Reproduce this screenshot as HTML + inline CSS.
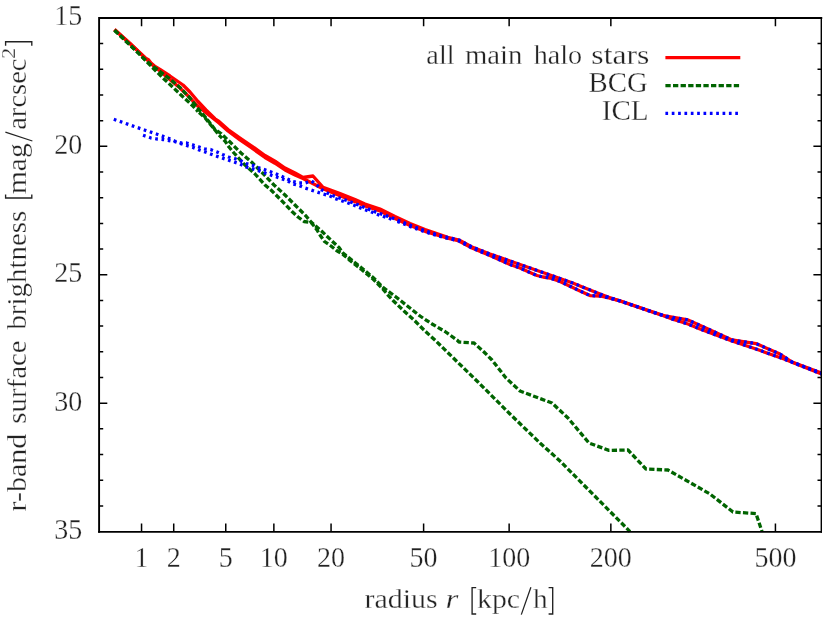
<!DOCTYPE html>
<html><head><meta charset="utf-8"><title>r-band surface brightness</title>
<style>html,body{margin:0;padding:0;background:#fff;overflow:hidden;}svg{display:block;will-change:transform;}text{font-family:"Liberation Serif",serif;font-size:28px;fill:#222;stroke:#fff;stroke-width:0.3px;paint-order:fill stroke;}</style></head><body>
<svg width="830" height="618" viewBox="0 0 830 618">
<rect width="830" height="618" fill="#fff"/>
<g fill="none" stroke-width="3.3" stroke-linejoin="round" stroke-linecap="butt">
<polyline stroke="#ff0000" points="114.5,29.5 130.0,43.5 145.0,57.9 148.5,59.7 151.0,62.9 155.0,66.5 160.0,69.5 170.0,76.0 183.0,85.0 190.0,92.0 198.0,101.5 206.0,110.0 215.0,118.8 219.0,121.4 228.0,129.5 240.0,138.0 251.0,145.5 265.0,155.5 275.0,161.2 285.0,168.0 295.0,173.0 303.0,177.5 313.0,176.0 323.0,187.3 340.0,193.6 355.0,199.5 365.0,204.0 380.0,209.0 395.0,216.5 410.0,223.5 425.0,229.6 447.7,237.3 459.0,240.0 472.0,247.0 490.0,254.0 510.0,261.0 530.0,268.0 540.0,271.5 550.0,275.0 560.0,278.5 572.7,283.0 580.0,286.0 600.0,294.0 610.0,297.8 620.0,300.8 650.0,311.0 665.0,316.0 672.0,317.2 688.0,320.0 708.0,329.0 732.0,340.0 756.0,343.6 780.0,354.0 792.0,362.0 821.5,373.0"/>
<polyline stroke="#ff0000" points="114.5,29.5 130.0,43.5 145.0,57.5 150.0,63.0 160.0,71.0 168.0,78.0 180.0,88.0 190.0,97.8 198.0,106.3 206.0,112.8 219.0,123.0 228.0,131.0 240.0,140.0 251.0,147.5 265.0,157.5 275.0,163.2 285.0,170.0 295.0,175.0 303.0,178.5 323.0,188.8 340.0,195.6 355.0,201.6 365.0,206.0 380.0,211.0 395.0,218.5 410.0,225.4 425.0,231.3 447.7,238.2 459.0,241.0 472.0,248.0 490.0,255.5 500.0,260.0 510.0,264.5 520.0,268.0 530.0,272.5 537.0,275.5 543.0,277.0 550.0,278.0 560.0,281.5 572.7,287.5 580.0,291.0 590.0,295.6 600.0,296.0 610.0,298.2 620.0,301.0 650.0,311.2 665.0,316.3 672.0,319.0 688.0,324.0 700.0,329.0 732.0,341.0 756.0,349.0 784.0,359.0 821.5,374.0"/>
<polyline stroke="#006400" stroke-dasharray="5.3 2.3" points="114.5,30.2 137.7,52.4 144.8,59.5 150.0,64.0 170.0,79.0 180.0,87.5 190.0,98.0 197.0,107.5 205.0,116.8 209.0,121.8 215.0,129.5 221.0,133.5 230.0,142.0 241.0,153.0 252.0,162.5 263.0,173.5 274.0,185.0 285.0,195.0 295.0,205.0 306.0,216.0 311.0,222.0 322.0,231.5 333.0,242.0 339.0,247.5 343.0,253.1 349.0,257.9 361.0,267.4 373.0,277.4 383.0,287.4 390.0,292.5 396.0,297.0 408.0,306.5 420.0,316.0 432.0,324.0 445.0,331.5 457.0,340.0 459.0,342.0 474.0,343.0 484.0,352.0 492.0,360.0 506.0,378.0 520.0,391.0 552.0,403.0 568.0,418.0 589.0,443.0 609.0,450.4 628.0,450.0 646.0,469.0 668.0,470.0 710.0,494.0 733.0,512.0 756.0,513.6 762.0,531.6"/>
<polyline stroke="#006400" stroke-dasharray="5.3 2.3" points="114.5,30.2 137.7,52.4 144.8,59.5 152.0,67.0 164.0,79.0 170.0,84.5 181.0,95.0 187.0,100.5 193.0,106.1 198.0,111.6"/>
<polyline stroke="#006400" stroke-dasharray="5.3 2.3" stroke-dashoffset="6.17" points="198.0,111.6 205.0,117.8 209.0,122.8 215.0,130.0 219.0,135.1"/>
<polyline stroke="#006400" stroke-dasharray="5.3 2.3" stroke-dashoffset="1.03" points="219.0,135.1 225.0,141.0 229.0,147.0 234.0,153.0 244.0,164.0 255.0,174.0 265.0,185.0 271.0,190.0 281.0,200.0 292.0,211.5 298.0,217.0 304.0,221.5 311.0,222.5 314.0,226.0 317.0,230.0 320.0,235.0 324.5,241.5 331.0,246.0 336.5,250.5 343.0,254.4 349.0,259.6 361.0,269.1 373.0,279.1 383.0,289.1 388.0,295.1 393.0,300.5 404.0,311.0 415.0,321.0 425.5,331.5 436.0,341.0 440.0,345.0 478.0,382.0 510.0,414.0 540.0,443.0 560.0,461.0 630.0,531.6"/>
<polyline stroke="#0000ff" stroke-dasharray="2.7 3.65" points="113.8,119.3 145.0,130.2 157.0,134.2 169.0,138.5 174.5,141.0 180.5,142.8 186.5,143.0 192.5,144.8 198.5,146.8 204.5,148.8 210.5,149.5 216.5,151.8 222.5,154.5 228.5,157.0 234.5,158.5 240.0,160.5 246.0,163.5 252.0,165.0 258.0,167.5 270.0,171.5 281.0,176.0 293.0,181.5 299.0,183.0 305.0,183.0 311.5,181.0 316.0,184.0 320.5,189.0 325.0,192.0 335.0,196.5 347.5,200.8 359.0,205.2 365.0,207.7 376.0,212.2 388.0,216.4 395.0,219.0 407.0,224.0 419.0,228.6 431.0,232.7 443.0,236.4 459.0,240.0 472.0,247.0 490.0,254.0 510.0,261.0 530.0,268.0 540.0,271.5 550.0,275.0 560.0,278.5 572.7,283.0 580.0,286.0 600.0,294.0 610.0,297.8 620.0,300.8 650.0,311.0 665.0,316.0 672.0,317.2 688.0,320.0 708.0,329.0 732.0,340.0 756.0,343.6 780.0,354.0 792.0,362.0 821.5,373.0"/>
<polyline stroke="#0000ff" stroke-dasharray="2.7 3.65" points="143.0,135.3 144.5,135.8 150.5,137.8 156.8,139.0 163.0,139.5 169.0,140.5 174.5,141.5 186.5,145.5 192.5,147.2 198.5,149.7 204.5,151.8 210.5,154.0 216.0,156.0 222.0,158.0 228.0,160.0 234.0,162.0 240.0,164.0 246.0,167.0 252.0,168.5 263.5,172.5 275.0,176.5 287.0,180.5 293.0,184.0 299.0,185.5 305.0,188.0 311.0,190.0 317.0,192.0 323.0,194.0 329.0,195.5 335.0,198.5 341.5,200.7 347.5,202.8 353.5,205.0 359.0,207.3 365.0,209.7 371.0,211.7 376.0,214.0 388.0,218.0 395.0,220.5"/>
<polyline stroke="#0000ff" stroke-dasharray="2.7 3.65" stroke-dashoffset="3.71" points="395.0,220.5 407.0,225.3 419.0,229.8 431.0,233.7 443.0,237.2 459.0,241.0 472.0,248.0 490.0,255.5 500.0,260.0 510.0,264.5 520.0,268.0 530.0,272.5 537.0,275.5 543.0,277.0 550.0,278.0 560.0,281.5 572.7,287.5 580.0,291.0 590.0,295.6 600.0,296.0 610.0,298.2 620.0,301.0 650.0,311.2 665.0,316.3 672.0,319.0 688.0,324.0 700.0,329.0 732.0,341.0 756.0,349.0 784.0,359.0 821.5,374.0"/>
<line stroke="#ff0000" x1="665.4" y1="57.65" x2="740.3" y2="57.65"/>
<line stroke="#006400" stroke-dasharray="5.3 2.3" x1="665.4" y1="85.55" x2="739.3" y2="85.55"/>
<line stroke="#0000ff" stroke-dasharray="2.7 3.65" x1="665.4" y1="113.3" x2="738.4" y2="113.3"/>
</g>
<g stroke="#000" fill="none" stroke-linecap="butt">
<path stroke-width="1.9" stroke-linecap="square" d="M99.1 531.7V18.0H821.3000000000001"/>
<path stroke-width="1.8" d="M98.14999999999999 531.8000000000001H822.0"/>
<path stroke-width="1.4" d="M821.3000000000001 17.05V532.7"/>
<path stroke-width="1.5" d="M99.1 43.58h4.1M821.6 43.58h-4.1M99.1 69.27h4.1M821.6 69.27h-4.1M99.1 94.95h4.1M821.6 94.95h-4.1M99.1 120.64h4.1M821.6 120.64h-4.1M99.1 146.32h8.2M821.6 146.32h-8.2M99.1 172.01h4.1M821.6 172.01h-4.1M99.1 197.69h4.1M821.6 197.69h-4.1M99.1 223.38h4.1M821.6 223.38h-4.1M99.1 249.06h4.1M821.6 249.06h-4.1M99.1 274.75h8.2M821.6 274.75h-8.2M99.1 300.43h4.1M821.6 300.43h-4.1M99.1 326.12h4.1M821.6 326.12h-4.1M99.1 351.80h4.1M821.6 351.80h-4.1M99.1 377.49h4.1M821.6 377.49h-4.1M99.1 403.17h8.2M821.6 403.17h-8.2M99.1 428.86h4.1M821.6 428.86h-4.1M99.1 454.54h4.1M821.6 454.54h-4.1M99.1 480.23h4.1M821.6 480.23h-4.1M99.1 505.91h4.1M821.6 505.91h-4.1M141.55 531.7v-8.2M141.55 18.0v8.2M173.72 531.7v-8.2M173.72 18.0v8.2M225.76 531.7v-8.2M225.76 18.0v8.2M273.86 531.7v-8.2M273.86 18.0v8.2M331.06 531.7v-8.2M331.06 18.0v8.2M423.61 531.7v-8.2M423.61 18.0v8.2M509.14 531.7v-8.2M509.14 18.0v8.2M610.85 531.7v-8.2M610.85 18.0v8.2M775.43 531.7v-8.2M775.43 18.0v8.2"/>
</g>
<text x="54.30" y="25.30" style="font-size:29px" textLength="28.00" lengthAdjust="spacingAndGlyphs">15</text>
<text x="54.30" y="153.72" style="font-size:29px" textLength="28.00" lengthAdjust="spacingAndGlyphs">20</text>
<text x="54.30" y="282.15" style="font-size:29px" textLength="28.00" lengthAdjust="spacingAndGlyphs">25</text>
<text x="54.30" y="410.57" style="font-size:29px" textLength="28.00" lengthAdjust="spacingAndGlyphs">30</text>
<text x="54.30" y="539.00" style="font-size:29px" textLength="28.00" lengthAdjust="spacingAndGlyphs">35</text>
<text x="134.55" y="566.80" style="font-size:29px" textLength="14.00" lengthAdjust="spacingAndGlyphs">1</text>
<text x="166.72" y="566.80" style="font-size:29px" textLength="14.00" lengthAdjust="spacingAndGlyphs">2</text>
<text x="218.76" y="566.80" style="font-size:29px" textLength="14.00" lengthAdjust="spacingAndGlyphs">5</text>
<text x="259.86" y="566.80" style="font-size:29px" textLength="28.00" lengthAdjust="spacingAndGlyphs">10</text>
<text x="317.06" y="566.80" style="font-size:29px" textLength="28.00" lengthAdjust="spacingAndGlyphs">20</text>
<text x="409.61" y="566.80" style="font-size:29px" textLength="28.00" lengthAdjust="spacingAndGlyphs">50</text>
<text x="488.14" y="566.80" style="font-size:29px" textLength="42.00" lengthAdjust="spacingAndGlyphs">100</text>
<text x="589.85" y="566.80" style="font-size:29px" textLength="42.00" lengthAdjust="spacingAndGlyphs">200</text>
<text x="754.43" y="566.80" style="font-size:29px" textLength="42.00" lengthAdjust="spacingAndGlyphs">500</text>
<text x="426.39" y="64.40" style="font-size:28px" textLength="28.20" lengthAdjust="spacingAndGlyphs">all</text>
<text x="464.98" y="64.40" style="font-size:28px" textLength="57.41" lengthAdjust="spacingAndGlyphs">main</text>
<text x="533.70" y="64.40" style="font-size:28px" textLength="48.41" lengthAdjust="spacingAndGlyphs">halo</text>
<text x="591.35" y="64.40" style="font-size:28px" textLength="58.11" lengthAdjust="spacingAndGlyphs">stars</text>
<text x="588.58" y="92.40" style="font-size:29.3px" textLength="59.22" lengthAdjust="spacingAndGlyphs">BCG</text>
<text x="601.76" y="120.30" style="font-size:29.3px" textLength="46.91" lengthAdjust="spacingAndGlyphs">ICL</text>
<text x="364.46" y="608.00" style="font-size:28px" textLength="73.14" lengthAdjust="spacingAndGlyphs">radius</text>
<text x="445.40" y="608.00" style="font-size:28px" textLength="12.88" lengthAdjust="spacingAndGlyphs" font-style="italic">r</text>
<path d="M476.2 587.6H472.1V614.0H476.2" fill="none" stroke="#222" stroke-width="1.35" stroke-linecap="butt" stroke-linejoin="miter"/>
<text x="476.97" y="608.00" style="font-size:28px" textLength="43.12" lengthAdjust="spacingAndGlyphs">kpc</text>
<path d="M521.3 614.6L530.9 587.2" fill="none" stroke="#222" stroke-width="1.25" stroke-linecap="butt" stroke-linejoin="miter"/>
<text x="533.09" y="608.00" style="font-size:28px" textLength="14.63" lengthAdjust="spacingAndGlyphs">h</text>
<path d="M548.6 587.6H552.7V614.0H548.6" fill="none" stroke="#222" stroke-width="1.35" stroke-linecap="butt" stroke-linejoin="miter"/>
<g transform="translate(25.7,0) rotate(-90)">
<text x="-511.44" y="0.00" style="font-size:28px" textLength="77.78" lengthAdjust="spacingAndGlyphs">r-band</text>
<text x="-423.74" y="0.00" style="font-size:28px" textLength="83.40" lengthAdjust="spacingAndGlyphs">surface</text>
<text x="-329.60" y="0.00" style="font-size:28px" textLength="118.94" lengthAdjust="spacingAndGlyphs">brightness</text>
<path d="M-194.4 -20.1H-198.0V6.1H-194.4" fill="none" stroke="#222" stroke-width="1.35" stroke-linecap="butt" stroke-linejoin="miter"/>
<text x="-194.03" y="0.00" style="font-size:28px" textLength="50.66" lengthAdjust="spacingAndGlyphs">mag</text>
<path d="M-141.0 6.7L-132.2 -20.3" fill="none" stroke="#222" stroke-width="1.25" stroke-linecap="butt" stroke-linejoin="miter"/>
<text x="-129.82" y="0.00" style="font-size:28px" textLength="71.37" lengthAdjust="spacingAndGlyphs">arcsec</text>
<text x="-59.06" y="-10.50" style="font-size:19.7px" textLength="11.15" lengthAdjust="spacingAndGlyphs">2</text>
<path d="M-45.7 -20.1H-41.7V6.1H-45.7" fill="none" stroke="#222" stroke-width="1.35" stroke-linecap="butt" stroke-linejoin="miter"/>
</g>
</svg></body></html>
